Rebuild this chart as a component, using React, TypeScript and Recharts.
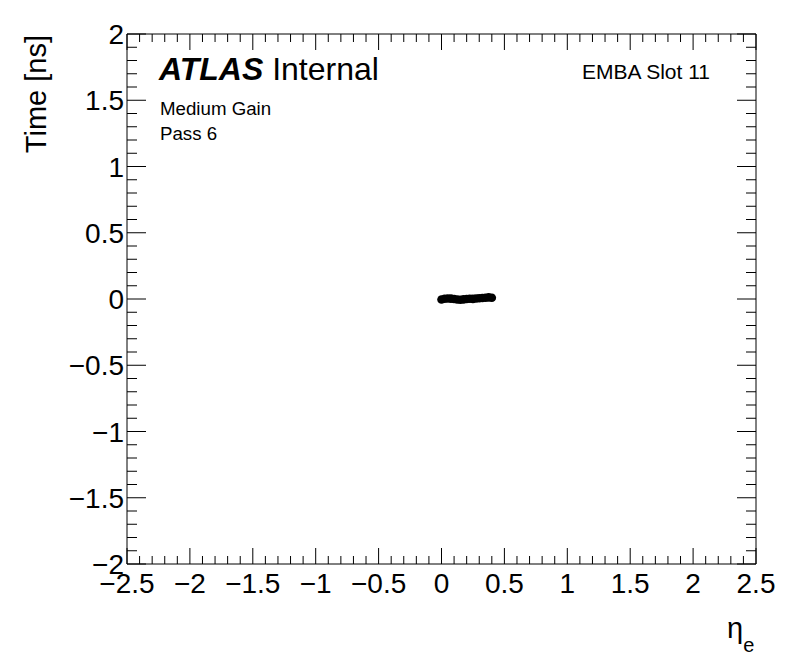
import React from 'react';
import { ScatterChart, Scatter, XAxis, YAxis } from 'recharts';

const etaValues = [0.0, 0.025, 0.05, 0.075, 0.1, 0.125, 0.15, 0.175, 0.2, 0.225, 0.25, 0.275, 0.3, 0.325, 0.35, 0.375, 0.4];
const timeValues = [-0.004, 0.002, 0.004, 0.003, 0.0, -0.004, -0.006, -0.003, 0.0, 0.002, 0.001, 0.004, 0.006, 0.008, 0.01, 0.012, 0.01];

const xMajorTicks = [-2.5, -2, -1.5, -1, -0.5, 0, 0.5, 1, 1.5, 2, 2.5];
const yMajorTicks = [-2, -1.5, -1, -0.5, 0, 0.5, 1, 1.5, 2];
const minorStep = 0.1;

const data = etaValues.map((eta, i) => ({ eta, time: timeValues[i] }));

const withMinors = (majors: number[]) => {
  const out: number[] = [];
  for (let i = 0; i < majors.length - 1; i++) {
    const a = majors[i];
    const b = majors[i + 1];
    const n = Math.round((b - a) / minorStep);
    for (let k = 0; k < n; k++) out.push(Math.round((a + k * minorStep) * 100) / 100);
  }
  out.push(majors[majors.length - 1]);
  return out;
};

const xTicks = withMinors(xMajorTicks);
const yTicks = withMinors(yMajorTicks);

const FONT = '"Liberation Sans", Arial, Helvetica, sans-serif';
const isMajor = (v: number, majors: number[]) => majors.some((m) => Math.abs(m - v) < 1e-6);
const fmt = (v: number) => (v < 0 ? '\u2212' + String(Math.abs(v)) : String(v));

const W = 796;
const H = 672;

const BottomTick = (props: any) => {
  const { x, y, payload } = props;
  const major = isMajor(payload.value, xMajorTicks);
  return (
    <g>
      <line x1={x} x2={x} y1={y} y2={y - (major ? 16 : 8)} stroke="#000" strokeWidth={1} />
      {major && (
        <text x={x} y={y + 29} textAnchor="middle" fontSize={28} fontFamily={FONT} fill="#000">
          {fmt(payload.value)}
        </text>
      )}
    </g>
  );
};

const TopTick = (props: any) => {
  const { x, y, payload } = props;
  const major = isMajor(payload.value, xMajorTicks);
  return <line x1={x} x2={x} y1={y} y2={y + (major ? 16 : 8)} stroke="#000" strokeWidth={1} />;
};

const LeftTick = (props: any) => {
  const { x, y, payload } = props;
  const major = isMajor(payload.value, yMajorTicks);
  return (
    <g>
      <line x1={x} x2={x + (major ? 19 : 10)} y1={y} y2={y} stroke="#000" strokeWidth={1} />
      {major && (
        <text x={x - 3} y={y + 10} textAnchor="end" fontSize={28} fontFamily={FONT} fill="#000">
          {fmt(payload.value)}
        </text>
      )}
    </g>
  );
};

const RightTick = (props: any) => {
  const { x, y, payload } = props;
  const major = isMajor(payload.value, yMajorTicks);
  return <line x1={x} x2={x - (major ? 19 : 10)} y1={y} y2={y} stroke="#000" strokeWidth={1} />;
};

const Marker = (props: any) => <circle cx={props.cx} cy={props.cy} r={4.3} fill="#000" />;

export default function App() {
  return (
    <div style={{ position: 'absolute', left: 0, top: 0, width: W, height: H, background: '#fff' }}>
      <ScatterChart width={W} height={H} margin={{ top: 33, right: 39, bottom: 0, left: 0 }}>
        <XAxis
          xAxisId="b"
          type="number"
          dataKey="eta"
          domain={[-2.5, 2.5]}
          ticks={xTicks}
          interval={0}
          height={108}
          tickSize={0}
          tickMargin={0}
          tick={<BottomTick />}
          axisLine={{ stroke: '#000', strokeWidth: 1 }}
          allowDataOverflow
        />
        <XAxis
          xAxisId="t"
          orientation="top"
          type="number"
          dataKey="eta"
          domain={[-2.5, 2.5]}
          ticks={xTicks}
          interval={0}
          height={1}
          tickSize={0}
          tickMargin={0}
          tick={<TopTick />}
          axisLine={{ stroke: '#000', strokeWidth: 1 }}
          allowDataOverflow
        />
        <YAxis
          yAxisId="l"
          type="number"
          dataKey="time"
          domain={[-2, 2]}
          ticks={yTicks}
          interval={0}
          width={127}
          tickSize={0}
          tickMargin={0}
          tick={<LeftTick />}
          axisLine={{ stroke: '#000', strokeWidth: 1 }}
          allowDataOverflow
        />
        <YAxis
          yAxisId="r"
          orientation="right"
          type="number"
          dataKey="time"
          domain={[-2, 2]}
          ticks={yTicks}
          interval={0}
          width={1}
          tickSize={0}
          tickMargin={0}
          tick={<RightTick />}
          axisLine={{ stroke: '#000', strokeWidth: 1 }}
          allowDataOverflow
        />
        <Scatter data={data} xAxisId="b" yAxisId="l" shape={<Marker />} isAnimationActive={false} />
        <Scatter data={data} xAxisId="t" yAxisId="r" shape={() => <g />} isAnimationActive={false} />
      </ScatterChart>
      <svg
        width={W}
        height={H}
        style={{ position: 'absolute', left: 0, top: 0, pointerEvents: 'none' }}
        fontFamily={FONT}
      >
        <text x={46} y={35} transform="rotate(-90 46 35)" textAnchor="end" fontSize={29} fill="#000">
          Time [ns]
        </text>
        <text x={727} y={638} fontSize={29} fill="#000">
          η<tspan fontSize={20} dy={14}>e</tspan>
        </text>
        <text x={159} y={80} fontSize={32} fill="#000">
          <tspan fontWeight="bold" fontStyle="italic">ATLAS</tspan>
          <tspan> Internal</tspan>
        </text>
        <text x={160} y={115} fontSize={18.7} fill="#000">Medium Gain</text>
        <text x={160} y={140} fontSize={18.7} fill="#000">Pass 6</text>
        <text x={582} y={79} fontSize={21} fill="#000">EMBA Slot 11</text>
      </svg>
    </div>
  );
}
